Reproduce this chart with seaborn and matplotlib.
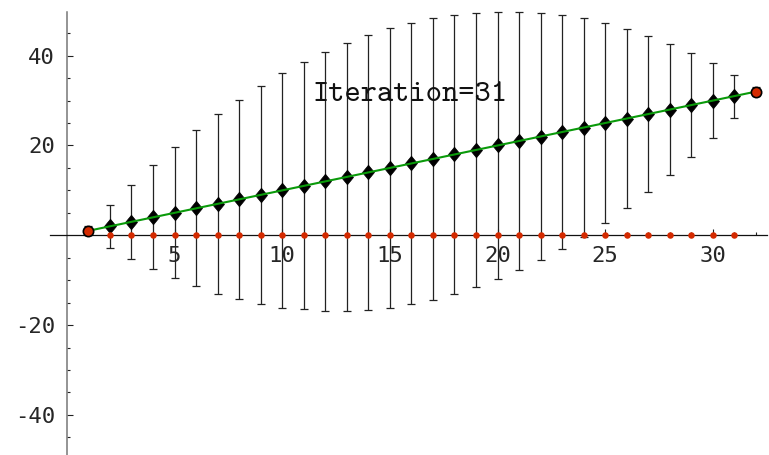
import matplotlib
matplotlib.use("Agg")
import matplotlib.pyplot as plt
from matplotlib.path import Path
from matplotlib.ticker import FixedLocator
import seaborn as sns
import pandas as pd

# Iteration index, running mean and spread at each step
iterations = [1, 2, 3, 4, 5, 6, 7, 8, 9, 10, 11, 12, 13, 14, 15, 16,
              17, 18, 19, 20, 21, 22, 23, 24, 25, 26, 27, 28, 29, 30, 31, 32]
mean_vals = [1, 2, 3, 4, 5, 6, 7, 8, 9, 10, 11, 12, 13, 14, 15, 16,
             17, 18, 19, 20, 21, 22, 23, 24, 25, 26, 27, 28, 29, 30, 31, 32]
err_vals = [1.0, 4.8, 8.3, 11.6, 14.6, 17.4, 20.0, 22.2, 24.2, 26.1, 27.5,
            28.8, 29.8, 30.6, 31.1, 31.3, 31.3, 31.1, 30.5, 29.8, 28.8, 27.5,
            26.0, 24.3, 22.2, 20.0, 17.4, 14.6, 11.6, 8.3, 4.8, 1.0]
# Residual markers for the inner iterations
inner_iter = [2, 3, 4, 5, 6, 7, 8, 9, 10, 11, 12, 13, 14, 15, 16,
              17, 18, 19, 20, 21, 22, 23, 24, 25, 26, 27, 28, 29, 30, 31]
residual_vals = [0] * 30
# End points
end_iter = [1, 32]
end_vals = [1, 32]

x_ticks = [5, 10, 15, 20, 25, 30]
y_ticks = [-40, -20, 20, 40]
x_minor = [t for t in range(1, 33) if t % 5]
y_minor = [-45, -35, -30, -25, -15, -10, -5, 5, 10, 15, 25, 30, 35, 45]
label_text = "Iteration=31"

df = pd.DataFrame({"it": iterations, "mean": mean_vals, "err": err_vals})
inner = df[df["it"].isin(inner_iter)]
res = pd.DataFrame({"it": inner_iter, "r": residual_vals})
ends = pd.DataFrame({"it": end_iter, "v": end_vals})

sns.set_style("white")
plt.rcParams["axes.unicode_minus"] = False

fig = plt.figure(figsize=(7.69, 4.55), dpi=100)
ax = fig.add_axes([0, 0, 1, 1])

# error bars
ax.errorbar(df["it"], df["mean"], yerr=df["err"], fmt="none",
            ecolor="#222222", elinewidth=0.9, capsize=3.1, capthick=0.9,
            zorder=2)

diamond = Path([(0, 1), (0.82, 0), (0, -1), (-0.82, 0), (0, 1)],
               [Path.MOVETO, Path.LINETO, Path.LINETO, Path.LINETO,
                Path.CLOSEPOLY])
sns.scatterplot(data=inner, x="it", y="mean", marker=diamond, s=110,
                color="black", edgecolor="black", linewidth=0.5, ax=ax,
                zorder=3)
sns.lineplot(data=ends, x="it", y="v", color="#0a9a0a", linewidth=1.5,
             ax=ax, zorder=4)
sns.scatterplot(data=res, x="it", y="r", color="#d42a00", s=22,
                linewidth=0, ax=ax, zorder=5)
sns.scatterplot(data=ends, x="it", y="v", color="#d42a00", s=55,
                edgecolor="black", linewidth=1.2, ax=ax, zorder=6)

ax.text(15.96, 29.9, label_text, ha="center", va="baseline",
        fontsize=22.3, family=["cmtt10", "Liberation Mono"],
        color="#111111")

ax.set_xlim(-3.107, 32.61)
ax.set_ylim(-48.93, 52.4)
ax.set_xlabel("")
ax.set_ylabel("")

for side in ("top", "right"):
    ax.spines[side].set_visible(False)
ax.spines["left"].set_position(("data", 0))
ax.spines["bottom"].set_position(("data", 0))
ax.spines["left"].set_bounds(-48.93, 49.7)
ax.spines["bottom"].set_bounds(-0.8, 32.5)
ax.spines["left"].set_color("#777777")
ax.spines["left"].set_linewidth(1.1)
ax.spines["bottom"].set_color("#111111")
ax.spines["bottom"].set_linewidth(0.9)

ax.xaxis.set_major_locator(FixedLocator(x_ticks))
ax.yaxis.set_major_locator(FixedLocator(y_ticks))
ax.xaxis.set_minor_locator(FixedLocator(x_minor))
ax.yaxis.set_minor_locator(FixedLocator(y_minor))
ax.set_xticklabels([str(t) for t in x_ticks])
ax.set_yticklabels([str(t) for t in y_ticks])

ax.tick_params(axis="both", which="both", direction="in", color="#222222",
               labelsize=16, width=0.8, bottom=True, left=True)
ax.tick_params(axis="both", which="major", length=4.5)
ax.tick_params(axis="both", which="minor", length=2.5)
ax.tick_params(axis="x", which="major", pad=8)
ax.tick_params(axis="y", which="major", pad=8.5)
for lbl in ax.get_xticklabels() + ax.get_yticklabels():
    lbl.set_family("DejaVu Sans Mono")

fig.savefig("out.png", dpi=100)
